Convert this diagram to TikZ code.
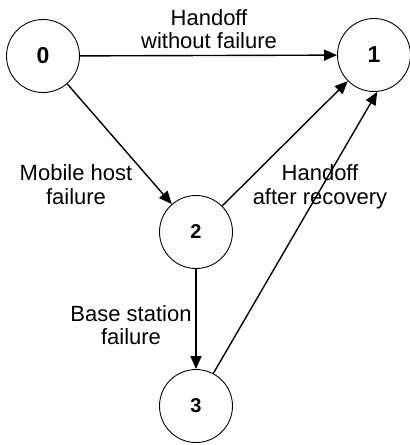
\documentclass[tikz,border=0pt]{standalone}
\usepackage{fontspec}
\setmainfont{Liberation Sans}
\usetikzlibrary{arrows.meta}
\begin{document}
\begin{tikzpicture}[x=1pt,y=-1pt,
  state/.style={circle,draw,line width=0.9pt,minimum size=73pt,inner sep=0pt},
  bignum/.style={font=\fontsize{23}{24}\selectfont\bfseries},
  smallnum/.style={font=\fontsize{20}{22}\selectfont\bfseries},
  lbl/.style={anchor=base,inner sep=0pt,font=\fontsize{22}{24}\selectfont},
  edge/.style={line width=1.4pt,-{Triangle[length=13pt,width=11pt]}}]
\useasboundingbox (0,0) rectangle (410,445);
\node[state,bignum] (n0) at (43,56) {0};
\node[state,bignum] (n1) at (374,55) {1};
\node[state,smallnum] (n2) at (196,232) {2};
\node[state,smallnum] (n3) at (196,406) {3};
\draw[edge] (n0) -- (n1);
\draw[edge] (n0) -- (n2);
\draw[edge] (n2) -- (n1);
\draw[edge] (n2) -- (n3);
\draw[edge] (n3.62) -- (n1.-85);
\node[lbl] (l1a) at (209,25) {Handoff};
\node[lbl] (l1b) at (209,48) {without failure};
\node[lbl] (l2a) at (76,180) {Mobile host};
\node[lbl] (l2b) at (76,204) {failure};
\node[lbl] (l3a) at (320,180) {Handoff};
\node[lbl] (l3b) at (320,204) {after recovery};
\node[lbl] (l4a) at (131,321) {Base station};
\node[lbl] (l4b) at (131,344) {failure};
\end{tikzpicture}
\end{document}
